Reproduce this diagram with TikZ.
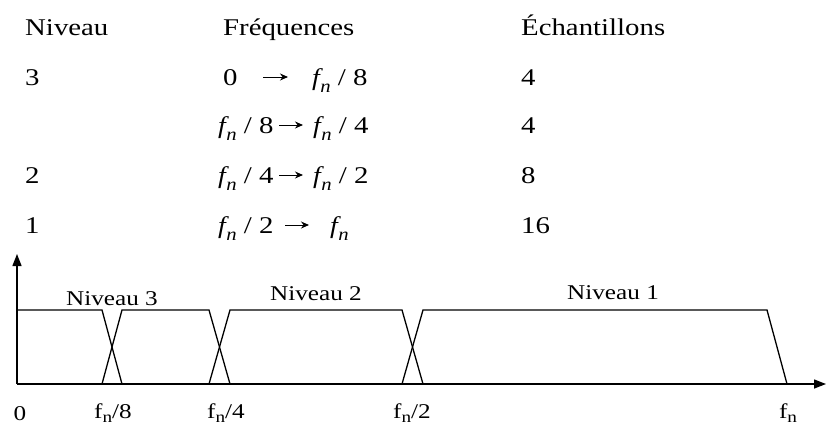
\documentclass[tikz,border=0pt]{standalone}
\usepackage{fontspec}
\setmainfont{Liberation Serif}[FakeStretch=1.2]
\newfontfamily\itf{Liberation Serif Italic}[FakeStretch=1.15]
\usetikzlibrary{arrows.meta}
\newcommand{\fni}{{\itf f}\kern0.02em\raisebox{-0.3em}{\fontsize{18}{18}\selectfont\itf n}}
\newcommand{\fnu}{f\raisebox{-0.22em}{\fontsize{16}{16}\selectfont n}}
\begin{document}
\begin{tikzpicture}[x=1pt,y=-1pt,
  hdr/.style={anchor=base west,inner sep=0pt,font=\fontsize{24}{24}\selectfont},
  lbl/.style={anchor=base,inner sep=0pt,font=\fontsize{21}{21}\selectfont},
  farrow/.style={line width=1pt,-{Stealth[length=8pt,width=7pt]}},
  axis/.style={line width=1.4pt,-{Triangle[length=12pt,width=9pt]}},
  band/.style={line width=1.3pt,line join=miter}]
\useasboundingbox (0,0) rectangle (826,426);
% header
\node[hdr] (hN) at (25,35) {Niveau};
\node[hdr] (hF) at (223,35) {Fréquences};
\node[hdr] (hE) at (521,35) {Échantillons};
% levels
\node[hdr] (l1) at (25,85) {3};
\node[hdr] (l3) at (25,183) {2};
\node[hdr] (l4) at (25,233) {1};
% frequencies
\node[hdr] (f1a) at (223,85) {0};
\node[hdr] (f1b) at (312,85) {\fni\ / 8};
\node[hdr] (f2a) at (218,133) {\fni\ / 8};
\node[hdr] (f2b) at (313,133) {\fni\ / 4};
\node[hdr] (f3a) at (218,183) {\fni\ / 4};
\node[hdr] (f3b) at (313,183) {\fni\ / 2};
\node[hdr] (f4a) at (218,233) {\fni\ / 2};
\node[hdr] (f4b) at (330,233) {\fni};
\coordinate (a1s) at (263,77); \coordinate (a1e) at (288,77);
\coordinate (a2s) at (279,125); \coordinate (a2e) at (303,125);
\coordinate (a3s) at (279,175); \coordinate (a3e) at (303,175);
\coordinate (a4s) at (285,225); \coordinate (a4e) at (309,225);
\draw[farrow] (a1s) -- (a1e);
\draw[farrow] (a2s) -- (a2e);
\draw[farrow] (a3s) -- (a3e);
\draw[farrow] (a4s) -- (a4e);
% samples
\node[hdr] (s1) at (521,85) {4};
\node[hdr] (s2) at (521,133) {4};
\node[hdr] (s3) at (521,183) {8};
\node[hdr] (s4) at (521,233) {16};
% axes
\coordinate (O) at (17,384);
\coordinate (ytip) at (17,254);
\coordinate (xtip) at (826,384);
\draw[axis] (O) -- (ytip);
\draw[axis] (O) -- (xtip);
% bands
\draw[band] (17,310) -- (102,310) -- (122,384);
\draw[band] (102,384) -- (122,310) -- (209,310) -- (230,384);
\draw[band] (209,384) -- (230,310) -- (402,310) -- (423,384);
\draw[band] (402,384) -- (423,310) -- (767,310) -- (787,384);
% band labels
\node[lbl] (n3) at (112,305) {Niveau 3};
\node[lbl] (n2) at (316,300) {Niveau 2};
\node[lbl] (n1) at (613,299) {Niveau 1};
% tick labels
\node[lbl] (t0) at (20,420) {0};
\node[lbl] (t8) at (113,418) {\fnu/8};
\node[lbl] (t4) at (226,418) {\fnu/4};
\node[lbl] (t2) at (412,418) {\fnu/2};
\node[lbl] (t1) at (788,418) {\fnu};
\end{tikzpicture}
\end{document}
